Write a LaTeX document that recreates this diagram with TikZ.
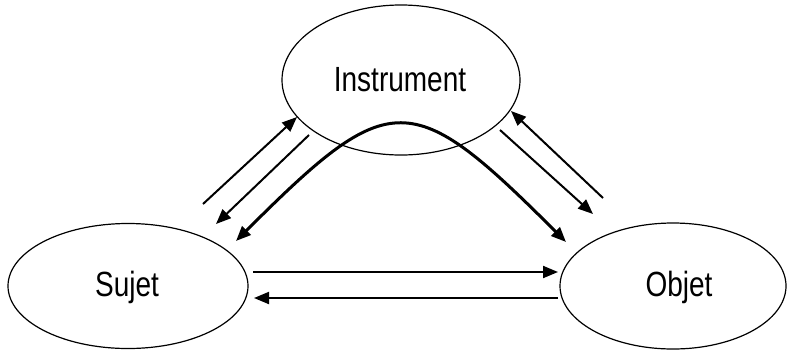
\documentclass[tikz,border=0pt]{standalone}
\usepackage{fontspec}
\setmainfont{Liberation Sans}
\usetikzlibrary{shapes.geometric,arrows.meta}
\tikzset{
  oval/.style={draw, ellipse, line width=1.2pt, inner sep=0pt},
  lbl/.style={font=\fontsize{35}{35}\selectfont},
  thinarrow/.style={line width=2pt, -{Triangle[length=15pt,width=12pt]}},
  thickarrow/.style={line width=3pt, {Triangle[length=15pt,width=12pt]}-{Triangle[length=15pt,width=12pt]}}
}
\begin{document}
\begin{tikzpicture}[x=1pt,y=-1pt]
\useasboundingbox (0,0) rectangle (791,354);
\node[oval, minimum width=238pt, minimum height=150pt] (inst) at (401,80) {};
\node[oval, minimum width=240pt, minimum height=125pt] (suj) at (128,286) {};
\node[oval, minimum width=226pt, minimum height=126pt] (obj) at (673,286) {};
\node[lbl] (tinst) at (400,80) {\scalebox{0.8}[1]{Instrument}};
\node[lbl] (tsuj) at (127,287) {\scalebox{0.8}[1]{Sujet}};
\node[lbl] (tobj) at (679,287) {\scalebox{0.8}[1]{Objet}};
% free ends
\coordinate (a1t) at (203,204);
\coordinate (a1h) at (297,117);
\coordinate (a2t) at (309,135);
\coordinate (a2h) at (216,224);
\coordinate (b1t) at (603,198);
\coordinate (b1h) at (511,111);
\coordinate (b2t) at (500,130);
\coordinate (b2h) at (593,214);
\coordinate (h1t) at (253,272);
\coordinate (h1h) at (558,272);
\coordinate (h2t) at (558,298);
\coordinate (h2h) at (254,298);
\coordinate (cl) at (236,241);
\coordinate (cr) at (566,242);
\draw[thinarrow] (a1t) -- (a1h);
\draw[thinarrow] (a2t) -- (a2h);
\draw[thinarrow] (b1t) -- (b1h);
\draw[thinarrow] (b2t) -- (b2h);
\draw[thinarrow] (h1t) -- (h1h);
\draw[thinarrow] (h2t) -- (h2h);
\draw[thickarrow] (cl) .. controls (391,86) and (411,87) .. (cr);
\end{tikzpicture}
\end{document}
